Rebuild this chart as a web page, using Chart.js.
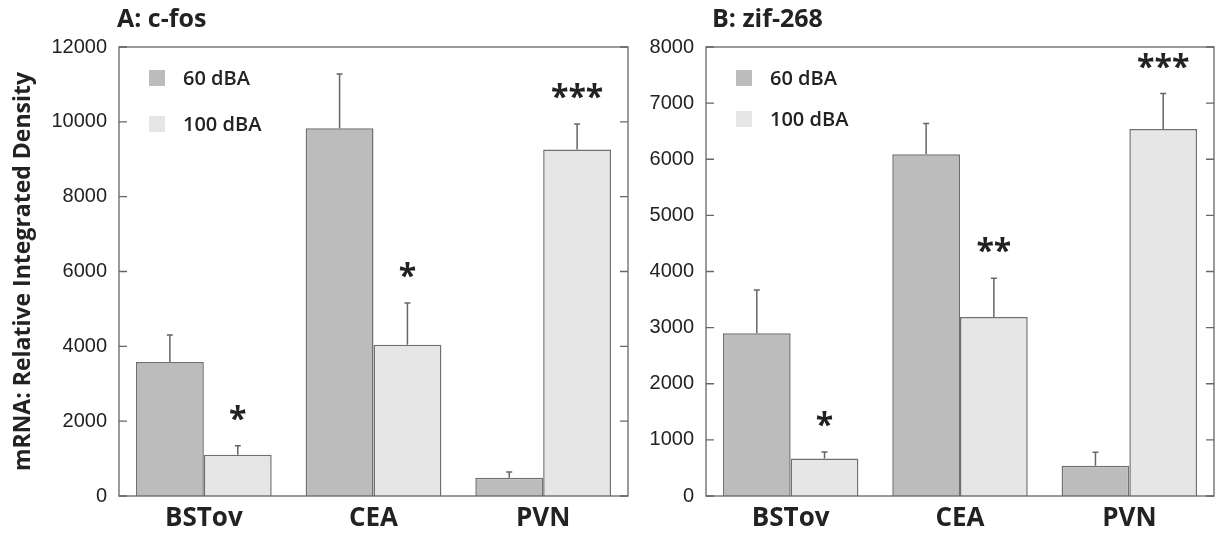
<!DOCTYPE html>
<html>
<head>
<meta charset="utf-8">
<script src="https://cdn.jsdelivr.net/npm/chart.js@4.4.1/dist/chart.umd.min.js"></script>
<style>
    body { margin: 0; background: #fff; }
    #wrap { position: relative; width: 1219px; height: 540px; }
    .panel { position: absolute; top: 0; height: 540px; }
    #panelA { left: 0; width: 640px; }
    #panelB { left: 640px; width: 579px; }
</style>
</head>
<body>
<div id="wrap">
    <div class="panel" id="panelA"><canvas id="chartA"></canvas></div>
    <div class="panel" id="panelB"><canvas id="chartB"></canvas></div>
</div>
<script>
// Data
const regions = ['BSTov', 'CEA', 'PVN'];
const groups = ['60 dBA', '100 dBA'];

// A: c-fos
const cfos60 = [3580, 9830, 490];
const cfos60Err = [720, 1450, 150];
const cfos100 = [1100, 4040, 9260];
const cfos100Err = [240, 1120, 680];
const cfosStars = ['*', '*', '***'];
const cfosMax = 12000;
const cfosStep = 2000;

// B: zif-268
const zif60 = [2900, 6090, 540];
const zif60Err = [770, 545, 240];
const zif100 = [670, 3190, 6540];
const zif100Err = [115, 690, 630];
const zifStars = ['*', '**', '***'];
const zifMax = 8000;
const zifStep = 1000;

const colors = {
    dark: '#bcbcbc',
    light: '#e6e6e6',
    edge: '#707070',
    text: '#222222'
};
const labelFont = '"Open Sans", "Noto Sans", sans-serif';
const tickFont = '"Liberation Sans", Arial, sans-serif';

// Upward error bars from each bar top
const errorBars = {
    id: 'errorBars',
    afterDatasetsDraw(chart) {
        const ctx = chart.ctx;
        const yScale = chart.scales.y;
        ctx.save();
        ctx.strokeStyle = '#666';
        ctx.lineWidth = 1.5;
        chart.data.datasets.forEach((ds, di) => {
            const meta = chart.getDatasetMeta(di);
            meta.data.forEach((bar, i) => {
                const top = yScale.getPixelForValue(ds.data[i] + ds.errors[i]);
                ctx.beginPath();
                ctx.moveTo(bar.x, bar.y);
                ctx.lineTo(bar.x, top);
                ctx.moveTo(bar.x - 3, top);
                ctx.lineTo(bar.x + 3, top);
                ctx.stroke();
            });
        });
        ctx.restore();
    }
};

// Significance stars above the 100 dBA bars
const starMarks = {
    id: 'starMarks',
    afterDatasetsDraw(chart, args, opts) {
        const ctx = chart.ctx;
        const yScale = chart.scales.y;
        const di = chart.data.datasets.length - 1;
        const ds = chart.data.datasets[di];
        const meta = chart.getDatasetMeta(di);
        ctx.save();
        ctx.fillStyle = colors.text;
        ctx.font = 'bold 32px ' + labelFont;
        ctx.textAlign = 'center';
        ctx.textBaseline = 'alphabetic';
        opts.marks.forEach((m, i) => {
            const top = yScale.getPixelForValue(ds.data[i] + ds.errors[i]);
            ctx.fillText(m, meta.data[i].x, top - 16);
        });
        ctx.restore();
    }
};

// Box around the plot with inward ticks on both sides
const frame = {
    id: 'frame',
    afterDraw(chart) {
        const ctx = chart.ctx;
        const a = chart.chartArea;
        const yScale = chart.scales.y;
        ctx.save();
        ctx.strokeStyle = '#666';
        ctx.lineWidth = 1.3;
        ctx.strokeRect(a.left, a.top, a.right - a.left, a.bottom - a.top);
        yScale.ticks.forEach(t => {
            const y = yScale.getPixelForValue(t.value);
            ctx.beginPath();
            ctx.moveTo(a.left, y);
            ctx.lineTo(a.left + 8, y);
            ctx.moveTo(a.right, y);
            ctx.lineTo(a.right - 8, y);
            ctx.stroke();
        });
        ctx.restore();
    }
};

// Vertical legend in the upper left of the plot
const boxLegend = {
    id: 'boxLegend',
    afterDraw(chart, args, opts) {
        const ctx = chart.ctx;
        const a = chart.chartArea;
        ctx.save();
        ctx.font = '600 20px ' + labelFont;
        ctx.textBaseline = 'middle';
        chart.data.datasets.forEach((ds, i) => {
            const y = opts.top + i * opts.gap;
            ctx.fillStyle = ds.backgroundColor;
            ctx.fillRect(a.left + 30, y - 8, 16, 16);
            ctx.fillStyle = colors.text;
            ctx.fillText(ds.label, a.left + 64, y + 1);
        });
        ctx.restore();
    }
};

// Panel heading, e.g. "A: c-fos"
const panelTitle = {
    id: 'panelTitle',
    afterDraw(chart, args, opts) {
        const ctx = chart.ctx;
        ctx.save();
        ctx.font = 'bold 25px ' + labelFont;
        ctx.fillStyle = colors.text;
        ctx.textBaseline = 'middle';
        ctx.fillText(opts.text, chart.chartArea.left + opts.dx, 20);
        ctx.restore();
    }
};

function makePanel(canvasId, cfg) {
    return new Chart(document.getElementById(canvasId), {
        type: 'bar',
        data: {
            labels: regions,
            datasets: [{
                label: groups[0],
                data: cfg.low,
                errors: cfg.lowErr,
                backgroundColor: colors.dark,
                borderColor: colors.edge,
                borderWidth: 1.5,
                categoryPercentage: 0.8,
                barPercentage: 1.0
            }, {
                label: groups[1],
                data: cfg.high,
                errors: cfg.highErr,
                backgroundColor: colors.light,
                borderColor: colors.edge,
                borderWidth: 1.5,
                categoryPercentage: 0.8,
                barPercentage: 1.0
            }]
        },
        options: {
            responsive: true,
            maintainAspectRatio: false,
            animation: false,
            layout: {
                padding: { top: 47, right: cfg.padRight, bottom: 0, left: 0 }
            },
            plugins: {
                legend: { display: false },
                tooltip: { enabled: false },
                starMarks: { marks: cfg.stars },
                boxLegend: { top: 78, gap: cfg.legendGap },
                panelTitle: { text: cfg.title, dx: cfg.titleDx }
            },
            scales: {
                x: {
                    grid: { display: false, drawTicks: false },
                    border: { display: false },
                    ticks: {
                        color: colors.text,
                        padding: 7,
                        font: { family: labelFont, size: 26, weight: 'bold' }
                    },
                    afterFit: s => { s.height = 44; }
                },
                y: {
                    min: 0,
                    max: cfg.max,
                    grid: { display: false, drawTicks: false, tickLength: 0 },
                    border: { display: false },
                    ticks: {
                        stepSize: cfg.step,
                        color: colors.text,
                        padding: 12,
                        font: { family: tickFont, size: 20 },
                        callback: v => String(v)
                    },
                    title: {
                        display: cfg.yTitle !== '',
                        text: cfg.yTitle,
                        color: colors.text,
                        padding: { top: 10, bottom: 0 },
                        font: { family: labelFont, size: 23, weight: 'bold' }
                    },
                    afterFit: s => { s.width = cfg.axisWidth; }
                }
            }
        },
        plugins: [errorBars, starMarks, frame, boxLegend, panelTitle]
    });
}

document.addEventListener('DOMContentLoaded', function() {
    makePanel('chartA', {
        title: 'A: c-fos',
        yTitle: 'mRNA: Relative Integrated Density',
        low: cfos60, lowErr: cfos60Err,
        high: cfos100, highErr: cfos100Err,
        stars: cfosStars,
        max: cfosMax, step: cfosStep,
        axisWidth: 119, padRight: 12,
        legendGap: 46, titleDx: -2
    });
    makePanel('chartB', {
        title: 'B: zif-268',
        yTitle: '',
        low: zif60, lowErr: zif60Err,
        high: zif100, highErr: zif100Err,
        stars: zifStars,
        max: zifMax, step: zifStep,
        axisWidth: 66, padRight: 5,
        legendGap: 41, titleDx: 6
    });
});
</script>
</body>
</html>
